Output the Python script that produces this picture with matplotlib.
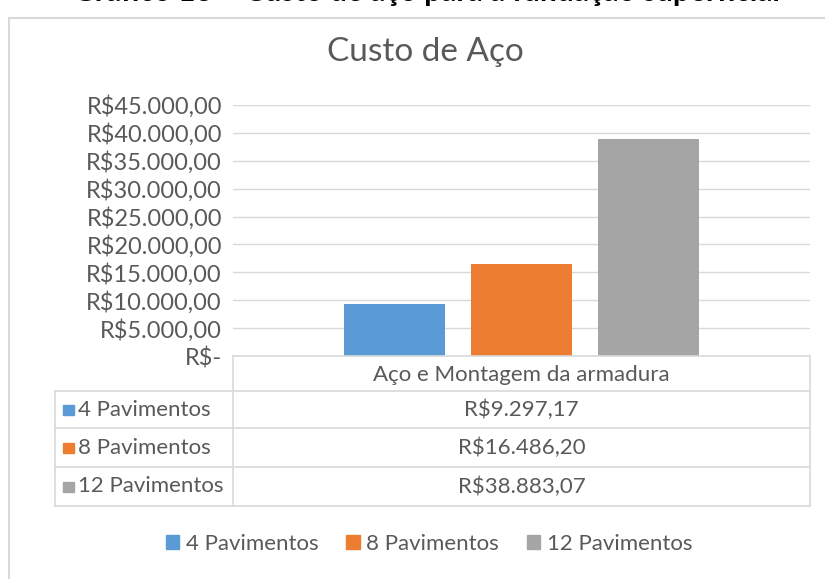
import matplotlib
matplotlib.use("Agg")
import matplotlib.pyplot as plt
from matplotlib.patches import Rectangle
from matplotlib.lines import Line2D

plt.rcParams['font.family'] = ['Lato', 'DejaVu Sans']

# data
category = "Aço e Montagem da armadura"
series = ["4 Pavimentos", "8 Pavimentos", "12 Pavimentos"]
values = [9297.17, 16486.20, 38883.07]
colors = ["#5B9BD5", "#ED7D31", "#A5A5A5"]
yticks = [0, 5000, 10000, 15000, 20000, 25000, 30000, 35000, 40000, 45000]

TXT = "#595959"
GRID = "#D9D9D9"
W, H = 825, 579


def brl(v):
    if v == 0:
        return "R$-"
    s = f"{v:,.2f}".replace(",", "X").replace(".", ",").replace("X", ".")
    return "R$" + s


def fx(x):
    return x / W


def fy(y):
    return 1 - y / H


fig = plt.figure(figsize=(W / 100, H / 100), dpi=100)

# caption cut at the top of the screenshot
fig.text(fx(426), fy(1.2), "Gráfico 13 – Custo de aço para a fundação superficial",
         ha='center', va='baseline', fontsize=21.5, fontweight='bold', color='black')

# chart area border
fig.patches.append(Rectangle((fx(9), fy(600)), fx(900), fy(18) - fy(600),
                             transform=fig.transFigure, fill=False,
                             edgecolor=GRID, linewidth=1.5))

fig.text(fx(425), fy(52), "Custo de Aço", ha='center', va='center',
         fontsize=24, color=TXT)

# plot area
x0, x1, ytop, ybot = 233, 810, 105, 356
ax = fig.add_axes([fx(x0), fy(ybot), fx(x1 - x0), fy(ytop) - fy(ybot)])
ax.set_xlim(0, 1)
ax.set_ylim(0, 45000)
bw = 101 / (x1 - x0)
step = 127 / (x1 - x0)
for i, (v, c) in enumerate(zip(values, colors)):
    ax.bar(0.5 + (i - 1) * step, v, width=bw, color=c, zorder=3)
ax.set_yticks(yticks)
ax.set_yticklabels([brl(t) for t in yticks])
ax.yaxis.grid(True, color=GRID, linewidth=1)
ax.set_axisbelow(True)
for s in ax.spines.values():
    s.set_visible(False)
ax.tick_params(axis='y', length=0, pad=8, labelsize=17, labelcolor=TXT)
ax.set_xticks([])

# data table
tl, tdiv, tr = 55, 233, 810
rows_y = [356, 391, 428, 467, 506]
lw = 1.2
fig.add_artist(Line2D([fx(tdiv), fx(tr)], [fy(356), fy(356)], color=GRID, lw=lw))
for y in rows_y[1:]:
    fig.add_artist(Line2D([fx(tl), fx(tr)], [fy(y), fy(y)], color=GRID, lw=lw))
fig.add_artist(Line2D([fx(tdiv), fx(tdiv)], [fy(356), fy(506)], color=GRID, lw=lw))
fig.add_artist(Line2D([fx(tr), fx(tr)], [fy(356), fy(506)], color=GRID, lw=lw))
fig.add_artist(Line2D([fx(tl), fx(tl)], [fy(391), fy(506)], color=GRID, lw=lw))

fig.text(fx((tdiv + tr) / 2), fy(375), category, ha='center', va='center',
         fontsize=16, color=TXT)
for i, (name, v, c) in enumerate(zip(series, values, colors)):
    yc = (rows_y[i + 1] + rows_y[i + 2]) / 2
    fig.patches.append(Rectangle((fx(63), fy(yc + 5)), fx(11), fy(yc - 5) - fy(yc + 5),
                                 transform=fig.transFigure, color=c))
    fig.text(fx(78), fy(yc), name, ha='left', va='center', fontsize=16, color=TXT)
    fig.text(fx((tdiv + tr) / 2), fy(yc), brl(v), ha='center', va='center',
             fontsize=16, color=TXT)

# legend
handles = [Rectangle((0, 0), 1, 1, color=c) for c in colors]
fig.legend(handles, series, loc='center', bbox_to_anchor=(fx(429), fy(544)),
           ncol=3, frameon=False, fontsize=16, labelcolor=TXT,
           handlelength=0.6, handleheight=0.6, handletextpad=0.3,
           columnspacing=1.25)

fig.savefig("out.png", dpi=100)
